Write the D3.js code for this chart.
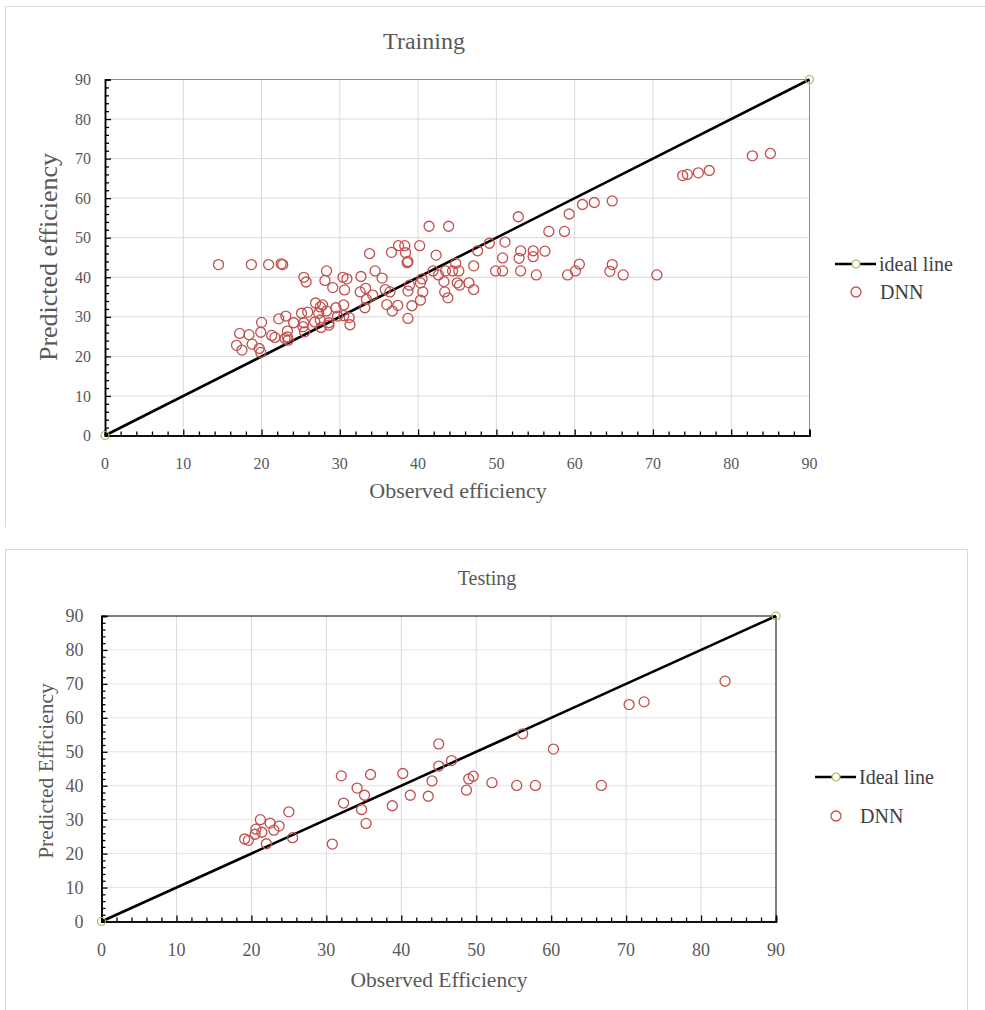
<!DOCTYPE html>
<html>
<head>
<meta charset="utf-8">
<script src="https://cdn.jsdelivr.net/npm/d3@7"></script>
<style>
  body { margin: 0; background: #fff; }
  svg { display: block; font-family: "Liberation Serif", "DejaVu Serif", serif; }
</style>
</head>
<body>
<svg id="chart" width="985" height="1010"></svg>
<script>
// ---- data ----
const trainObserved = [
  14.5, 18.7, 20.9, 22.5, 22.7, 25.4, 25.7, 28.3, 28.1, 29.1, 30.4, 30.9, 30.6,
  26.9, 27.8, 27.5, 28.3, 27.3, 29.5, 30.5, 31.2, 31.3, 29.7, 28.6, 28.6, 27.5,
  27.6, 26.8, 25.1, 25.9, 25.4, 25.5, 25.3, 24.1, 23.1, 22.2, 23.3, 23.3, 23.4,
  23.0, 21.3, 21.7, 20.0, 19.9, 17.2, 18.4, 18.8, 16.8, 17.5, 19.7, 19.9,
  41.4, 43.9, 52.8, 59.3, 61.0, 62.5, 56.7, 58.7, 51.1, 49.1, 47.6, 53.1, 52.9,
  54.7, 54.7, 56.2, 50.8, 47.1, 49.9, 50.8, 53.1, 55.1, 59.1, 60.1, 60.6, 33.8,
  36.6, 37.5, 38.3, 38.4, 40.2, 42.3, 38.6, 38.7, 34.5, 35.4, 32.7, 41.9, 42.6,
  43.5, 44.4, 45.2, 44.8, 43.3, 45.0, 45.3, 46.5, 47.1, 43.4, 43.8, 40.3, 40.5,
  38.9, 38.7, 40.6, 40.3, 39.2, 38.7, 35.8, 36.4, 32.6, 33.3, 33.4, 34.2, 33.2,
  36.0, 37.4, 36.7, 30.5,
  82.7, 85.0, 73.8, 74.4, 75.8, 77.2, 64.8, 64.8, 64.5, 66.2, 70.5
];
const trainPredicted = [
  43.2, 43.2, 43.2, 43.4, 43.2, 40.0, 38.8, 41.6, 39.2, 37.4, 40.0, 39.6, 36.8,
  33.5, 33.0, 32.5, 31.5, 30.9, 32.3, 33.0, 29.8, 28.0, 30.2, 28.5, 27.9, 29.2,
  27.3, 28.7, 30.9, 31.2, 28.5, 26.2, 27.5, 28.5, 30.2, 29.5, 26.4, 24.9, 24.1,
  24.5, 25.3, 24.8, 28.6, 26.1, 25.8, 25.5, 23.1, 22.8, 21.6, 22.0, 21.0,
  52.9, 52.9, 55.3, 56.0, 58.4, 58.9, 51.6, 51.6, 48.9, 48.6, 46.7, 46.7, 44.8,
  46.7, 45.2, 46.6, 44.9, 42.9, 41.6, 41.6, 41.6, 40.6, 40.6, 41.6, 43.3, 46.0,
  46.3, 48.0, 48.0, 46.2, 48.0, 45.6, 43.7, 44.0, 41.6, 39.8, 40.2, 41.6, 40.6,
  41.6, 41.6, 41.6, 43.5, 38.9, 38.6, 38.0, 38.6, 36.9, 36.3, 34.8, 38.6, 39.6,
  38.0, 36.5, 36.3, 34.2, 32.8, 29.6, 36.9, 36.3, 36.3, 37.2, 34.4, 35.5, 32.3,
  33.1, 32.9, 31.5, 30.3,
  70.7, 71.3, 65.7, 66.0, 66.4, 67.0, 59.3, 43.2, 41.5, 40.6, 40.6
];

const testObserved = [
  19.1, 19.6, 20.6, 20.5, 21.2, 21.4, 22.0, 22.5, 23.0, 23.7, 25.0, 25.5, 30.8,
  32.0, 32.3, 34.1, 35.1, 35.9, 34.7, 35.3, 38.8, 40.2, 41.2, 43.6, 44.1, 45.0,
  45.0, 46.7, 48.7, 49.0, 49.6, 52.1, 55.4, 57.9, 56.2, 60.3, 66.7, 83.2, 70.4, 72.4
];
const testPredicted = [
  24.3, 23.9, 27.2, 25.7, 30.0, 26.3, 22.9, 29.0, 26.9, 28.1, 32.3, 24.7, 22.8,
  42.9, 34.9, 39.3, 37.2, 43.3, 33.0, 28.9, 34.1, 43.6, 37.2, 36.9, 41.4, 52.3,
  45.8, 47.4, 38.7, 42.0, 42.8, 40.9, 40.1, 40.1, 55.3, 50.8, 40.1, 70.8, 63.9, 64.7
];

const idealLine = [0, 90];
const majorTicks = [0, 10, 20, 30, 40, 50, 60, 70, 80, 90];
const minorTicks = d3.range(0, 91, 2).filter(v => v % 10 !== 0);

const textGray = "#595959";
const dnnRed = "#c0504d";
const idealGreen = "#9bbb59";

const svg = d3.select("#chart");

// -------- one chart panel --------
function drawPanel(cfg) {
  const g = svg.append("g");

  // outer chart frame
  g.append("path")
    .attr("d", cfg.frame)
    .attr("fill", "none")
    .attr("stroke", "#d9d9d9")
    .attr("stroke-width", 1);

  const x = d3.scaleLinear().domain([0, 90]).range([cfg.left, cfg.right]);
  const y = d3.scaleLinear().domain([0, 90]).range([cfg.bottom, cfg.top]);

  // grid
  g.append("g").selectAll("line")
    .data(majorTicks.slice(1, -1))
    .join("line")
    .attr("x1", d => x(d)).attr("x2", d => x(d))
    .attr("y1", y(0)).attr("y2", y(90))
    .attr("stroke", "#d9d9d9").attr("stroke-width", 1);

  g.append("g").selectAll("line")
    .data(majorTicks.slice(1, -1))
    .join("line")
    .attr("x1", x(0)).attr("x2", x(90))
    .attr("y1", d => y(d)).attr("y2", d => y(d))
    .attr("stroke", cfg.hGrid).attr("stroke-width", 1);

  // top / right border of plot area
  g.append("path")
    .attr("d", `M${x(0)},${y(90)}H${x(90)}V${y(0)}`)
    .attr("fill", "none")
    .attr("stroke", cfg.plotBorder)
    .attr("stroke-width", 1);

  // axes with inward ticks
  const xAxis = d3.axisTop(x).tickValues(majorTicks).tickSize(6).tickFormat("");
  const yAxis = d3.axisRight(y).tickValues(majorTicks).tickSize(6).tickFormat("");
  const xMinor = d3.axisTop(x).tickValues(minorTicks).tickSize(4).tickFormat("");
  const yMinor = d3.axisRight(y).tickValues(minorTicks).tickSize(4).tickFormat("");

  [[xAxis, `translate(0,${y(0)})`], [xMinor, `translate(0,${y(0)})`],
   [yAxis, `translate(${x(0)},0)`], [yMinor, `translate(${x(0)},0)`]].forEach(([ax, tr]) => {
    const a = g.append("g").attr("transform", tr).call(ax);
    a.select(".domain").attr("stroke", "#000").attr("stroke-width", 1.5);
    a.selectAll(".tick line").attr("stroke", "#000").attr("stroke-width", 1.3);
  });

  // tick labels
  g.append("g").selectAll("text")
    .data(majorTicks)
    .join("text")
    .attr("x", d => x(d))
    .attr("y", y(0) + cfg.xLabelDy)
    .attr("text-anchor", "middle")
    .attr("font-size", cfg.tickSize)
    .attr("fill", textGray)
    .text(d => d);

  g.append("g").selectAll("text")
    .data(majorTicks)
    .join("text")
    .attr("x", x(0) - cfg.yLabelDx)
    .attr("y", d => y(d))
    .attr("dy", "0.35em")
    .attr("text-anchor", "end")
    .attr("font-size", cfg.tickSize)
    .attr("fill", textGray)
    .text(d => d);

  // ideal line
  const line = d3.line().x(d => x(d)).y(d => y(d));
  g.append("path")
    .datum(idealLine)
    .attr("d", line)
    .attr("fill", "none")
    .attr("stroke", "#000")
    .attr("stroke-width", 2.6);

  g.append("g").selectAll("circle")
    .data(idealLine)
    .join("circle")
    .attr("cx", d => x(d)).attr("cy", d => y(d))
    .attr("r", 4)
    .attr("fill", "none")
    .attr("stroke", idealGreen)
    .attr("stroke-width", 1.2);

  // DNN points
  g.append("g").selectAll("circle")
    .data(cfg.observed.map((v, i) => [v, cfg.predicted[i]]))
    .join("circle")
    .attr("cx", d => x(d[0])).attr("cy", d => y(d[1]))
    .attr("r", 5)
    .attr("fill", "none")
    .attr("stroke", dnnRed)
    .attr("stroke-width", 1.3);

  // titles
  g.append("text")
    .attr("x", cfg.titleX).attr("y", cfg.titleY)
    .attr("text-anchor", "middle")
    .attr("font-size", cfg.titleSize)
    .attr("fill", textGray)
    .text(cfg.title);

  g.append("text")
    .attr("x", cfg.xTitleX).attr("y", cfg.xTitleY)
    .attr("text-anchor", "middle")
    .attr("font-size", cfg.xTitleSize)
    .attr("fill", textGray)
    .text(cfg.xTitle);

  g.append("text")
    .attr("transform", `translate(${cfg.yTitleX},${cfg.yTitleY}) rotate(-90)`)
    .attr("text-anchor", "middle")
    .attr("font-size", cfg.yTitleSize)
    .attr("fill", textGray)
    .text(cfg.yTitle);

  // legend
  const lg = g.append("g").attr("transform", `translate(${cfg.legendX},${cfg.legendY})`);
  lg.append("line")
    .attr("x1", -21).attr("x2", 20).attr("y1", 0).attr("y2", 0)
    .attr("stroke", "#000").attr("stroke-width", 2.6);
  lg.append("circle").attr("r", 4)
    .attr("fill", "#fff").attr("stroke", idealGreen).attr("stroke-width", 1.2);
  lg.append("text")
    .attr("x", 23).attr("dy", "0.35em")
    .attr("font-size", cfg.legendSize).attr("fill", "#404040")
    .text(cfg.legendLine);
  lg.append("circle").attr("cy", cfg.legendGap).attr("r", 5)
    .attr("fill", "none").attr("stroke", dnnRed).attr("stroke-width", 1.3);
  lg.append("text")
    .attr("x", 24).attr("y", cfg.legendGap).attr("dy", "0.35em")
    .attr("font-size", cfg.legendSize).attr("fill", "#404040")
    .text("DNN");
}

drawPanel({
  frame: "M5.5,527V6.5H985",
  left: 105, right: 809.5, bottom: 435.5, top: 79.5,
  hGrid: "#d9d9d9", plotBorder: "#5b9bd5",
  observed: trainObserved, predicted: trainPredicted,
  tickSize: 16, xLabelDy: 33, yLabelDx: 14,
  title: "Training", titleX: 424, titleY: 49, titleSize: 24,
  xTitle: "Observed efficiency", xTitleX: 458, xTitleY: 498, xTitleSize: 22,
  yTitle: "Predicted efficiency", yTitleX: 57, yTitleY: 257, yTitleSize: 26,
  legendX: 856, legendY: 264, legendGap: 28, legendSize: 20, legendLine: "ideal line"
});

drawPanel({
  frame: "M5.5,1010V549.5H967.5V1010",
  left: 101.5, right: 776, bottom: 921.5, top: 616,
  hGrid: "#e6e4d8", plotBorder: "#000",
  observed: testObserved, predicted: testPredicted,
  tickSize: 18, xLabelDy: 34, yLabelDx: 18,
  title: "Testing", titleX: 487, titleY: 585, titleSize: 20,
  xTitle: "Observed Efficiency", xTitleX: 439, xTitleY: 987, xTitleSize: 21.5,
  yTitle: "Predicted Efficiency", yTitleX: 53, yTitleY: 771, yTitleSize: 21.5,
  legendX: 836, legendY: 777, legendGap: 39, legendSize: 20, legendLine: "Ideal line"
});
</script>
</body>
</html>
